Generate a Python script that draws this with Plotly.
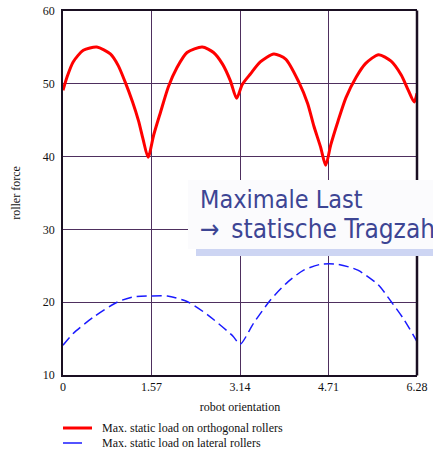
import plotly.graph_objects as go

# Red: max static load on orthogonal rollers
orth_x = [0.00, 0.07, 0.18, 0.36, 0.60, 0.84, 0.98, 1.10, 1.23, 1.34, 1.42, 1.51,
          1.61, 1.73, 1.87, 2.02, 2.20, 2.47, 2.67, 2.83, 2.97, 3.08,
          3.18, 3.33, 3.50, 3.74, 3.95, 4.18, 4.34, 4.45, 4.57, 4.66,
          4.75, 4.88, 5.02, 5.20, 5.37, 5.60, 5.82, 6.00, 6.12, 6.23, 6.28]
orth_y = [49.1, 50.9, 53.0, 54.6, 55.05, 54.1, 52.5, 50.3, 47.6, 44.9, 42.4, 39.9,
          43.0, 46.1, 49.6, 52.2, 54.3, 55.05, 54.3, 52.7, 50.4, 48.0,
          49.9, 51.4, 53.0, 54.1, 53.4, 50.3, 47.3, 44.2, 41.3, 38.8,
          41.6, 44.9, 48.1, 50.9, 52.8, 54.0, 53.1, 51.2, 49.2, 47.5, 48.7]

# Blue: max static load on lateral rollers
lat_x = [0.00, 0.18, 0.53, 0.96, 1.23, 1.55, 1.85, 2.20, 2.56, 3.02, 3.14,
         3.38, 3.68, 3.99, 4.27, 4.57, 4.88, 5.23, 5.59, 5.82, 6.05, 6.28]
lat_y = [14.1, 15.7, 17.9, 20.0, 20.7, 20.85, 20.85, 20.1, 18.3, 15.3, 14.2,
         17.1, 20.3, 22.8, 24.4, 25.2, 25.2, 24.4, 22.4, 20.1, 17.6, 14.6]

x_ticks = [0, 1.57, 3.14, 4.71, 6.28]
x_tick_labels = ["0", "1.57", "3.14", "4.71", "6.28"]
y_ticks = [10, 20, 30, 40, 50, 60]

names = ["Max. static load on orthogonal rollers", "Max. static load on lateral rollers"]
colors = ["#ff0000", "#1a1aff"]
overlay_lines = ["Maximale Last", "\u2192\u2002statische Tragzahl"]

W, H = 433, 456
L, R, T, B = 63, 16, 11, 81
pw, ph = W - L - R, H - T - B

def px(xp):
    return (xp - L) / pw

def py(yp):
    return (H - B - yp) / ph

serif = "Liberation Serif, Times New Roman, serif"
grid = "#4e2f5e"

fig = go.Figure()
fig.add_trace(go.Scatter(x=orth_x, y=orth_y, mode="lines", name=names[0],
                         line=dict(color=colors[0], width=3, shape="spline", smoothing=0.7)))
fig.add_trace(go.Scatter(x=lat_x, y=lat_y, mode="lines", name=names[1],
                         line=dict(color=colors[1], width=1.5, dash="10px,5px",
                                   shape="spline", smoothing=0.7)))

fig.update_layout(
    width=W, height=H,
    margin=dict(l=L, r=R, t=T, b=B, pad=0, autoexpand=False),
    paper_bgcolor="white", plot_bgcolor="white",
    font=dict(family=serif, size=12, color="#111"),
    showlegend=False,
    xaxis=dict(range=[0, 6.28], tickvals=x_ticks, ticktext=x_tick_labels,
               showgrid=True, gridcolor=grid, gridwidth=1, zeroline=False,
               showline=True, linecolor="#1a0f22", linewidth=1.5, mirror=True,
               ticks="", tickangle=0, automargin=False,
               tickfont=dict(family=serif, size=12, color="#111"),
               title=dict(text="robot orientation", standoff=9,
                          font=dict(family=serif, size=12, color="#111"))),
    yaxis=dict(range=[10, 60], tickvals=y_ticks, automargin=False,
               showgrid=True, gridcolor=grid, gridwidth=1, zeroline=False,
               showline=True, linecolor="#1a0f22", linewidth=1.5, mirror=False,
               ticks="", ticklabelstandoff=4,
               tickfont=dict(family=serif, size=12, color="#111"),
               title=dict(text="roller force", standoff=20,
                          font=dict(family=serif, size=12, color="#111"))),
)

# thicker right frame edge (hidden behind the overlay box, as in the reference)
for y0, y1 in [(375.5, 256), (180, 10.5)]:
    fig.add_shape(type="line", xref="paper", yref="paper", x0=1, x1=1,
                  y0=py(y0), y1=py(y1),
                  line=dict(color="#1a0f22", width=2.5), layer="above")

# manual legend below the plot
sample_end = [92, 82]
for i, (nm, c) in enumerate(zip(names, colors)):
    yy = 428 + 15 * i
    fig.add_shape(type="line", xref="paper", yref="paper",
                  x0=px(63), x1=px(sample_end[i]), y0=py(yy), y1=py(yy),
                  line=dict(color=c, width=3 if i == 0 else 1.5))
    fig.add_annotation(text=nm, xref="paper", yref="paper",
                       x=px(100), y=py(yy), xanchor="left", yanchor="middle",
                       showarrow=False,
                       font=dict(family=serif, size=12, color="#111"))

# overlay box from the slide
fig.add_shape(type="rect", xref="paper", yref="paper",
              x0=px(188), x1=px(445), y0=py(249), y1=py(180),
              fillcolor="#fbfbfd", line=dict(width=0), layer="above")
fig.add_shape(type="rect", xref="paper", yref="paper",
              x0=px(196), x1=px(445), y0=py(256), y1=py(249),
              fillcolor="#cdd5f3", line=dict(width=0), layer="above")

fig.add_annotation(text=overlay_lines[0], xref="paper", yref="paper",
                   x=px(198), y=py(200), xanchor="left", yanchor="middle",
                   showarrow=False,
                   font=dict(family="DejaVu Sans Condensed", size=25, color="#3d4594"))
fig.add_annotation(text=overlay_lines[1], xref="paper", yref="paper",
                   x=px(198), y=py(229), xanchor="left", yanchor="middle",
                   showarrow=False,
                   font=dict(family="DejaVu Sans Condensed", size=26, color="#3d4594"))

fig.write_html("out.html")
